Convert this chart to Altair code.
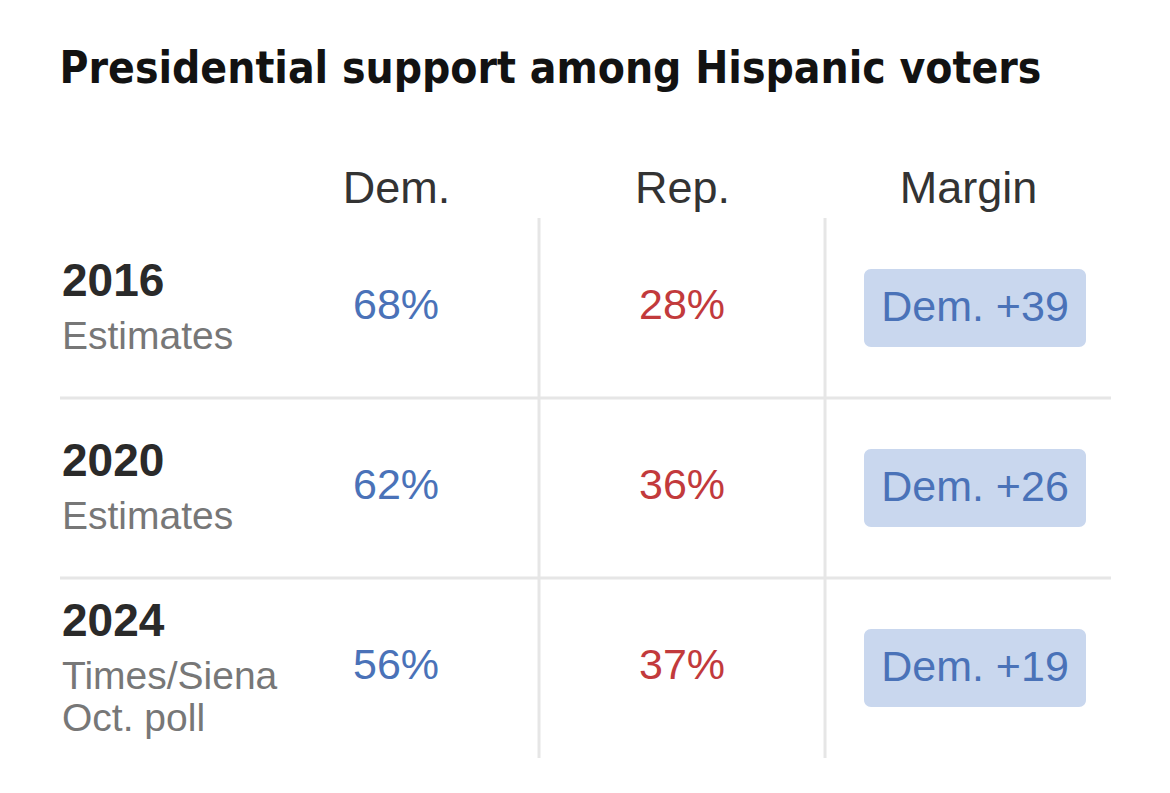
import altair as alt
import pandas as pd

# ---- data ----
columns = ["Dem.", "Rep.", "Margin"]
years = ["2016", "2020", "2024"]
sublabels = ["Estimates", "Estimates", "Times/Siena\nOct. poll"]
dem = [68, 62, 56]
rep = [28, 36, 37]
margin = [39, 26, 19]

title_text = "Presidential support among Hispanic voters"

BODY = "Liberation Sans, Arial, sans-serif"
TITLE_FONT = "DejaVu Sans Condensed, Liberation Sans Narrow, sans-serif"
BLUE = "#4a72b8"
RED = "#c23a3c"
BOX = "#c9d7ee"
RULE = "#e6e6e6"

PLOT_H = 540
n_rows = len(years)
ROW_PX = PLOT_H / n_rows

rows = pd.DataFrame({
    "row": list(range(n_rows)),
    "year": years,
    "sub": sublabels,
    "dem": dem,
    "rep": rep,
    "margin": margin,
})
rows["nsub"] = [s.count("\n") + 1 for s in sublabels]

vlines = pd.DataFrame({"x": [k + 0.5 for k in range(1, len(columns))]})
hlines = pd.DataFrame({"y": list(range(1, n_rows))})

xscale = alt.Scale(domain=[-0.175, len(columns) + 0.5], nice=False, zero=False)
yscale = alt.Scale(domain=[0, n_rows], reverse=True, nice=False, zero=False)

label_expr = "[" + ",".join(["''"] + ["'%s'" % c for c in columns]) + "][datum.value]"
xaxis = alt.Axis(
    orient="top", values=list(range(1, len(columns) + 1)), labelExpr=label_expr,
    grid=False, domain=False, ticks=False, title=None,
    labelFontSize=45, labelColor="#333333", labelFont=BODY, labelPadding=7,
    labelAngle=0,
)

base = alt.Chart(rows).transform_calculate(
    yc="datum.row + 0.5",
    yyear="datum.row + 0.5 - (26 + 20 * (datum.nsub - 1)) / %f" % ROW_PX,
    ysub="datum.row + 0.5 - (26 + 20 * (datum.nsub - 1) - 55) / %f" % ROW_PX,
)

v_rules = alt.Chart(vlines).mark_rule(color=RULE, strokeWidth=3).encode(
    x=alt.X("x:Q", scale=xscale, axis=xaxis)
)
h_rules = alt.Chart(hlines).mark_rule(color=RULE, strokeWidth=3).encode(
    y=alt.Y("y:Q", scale=yscale, axis=None)
)

boxes = base.mark_rect(
    width=222, height=78, cornerRadius=7, color=BOX, xOffset=7
).encode(
    x=alt.datum(3, scale=xscale, axis=xaxis),
    y=alt.Y("yc:Q", scale=yscale, axis=None),
)

year_txt = base.mark_text(
    align="left", baseline="middle", font=BODY, fontSize=46, fontWeight="bold",
    color="#2a2a2a",
).encode(
    x=alt.value(2),
    y=alt.Y("yyear:Q", scale=yscale, axis=None),
    text="year:N",
)
sub_txt = base.mark_text(
    align="left", baseline="middle", font=BODY, fontSize=39,
    color="#777777", lineBreak="\n", lineHeight=42,
).encode(
    x=alt.value(2),
    y=alt.Y("ysub:Q", scale=yscale, axis=None),
    text="sub:N",
)

dem_txt = base.transform_calculate(lab="datum.dem + '%'").mark_text(
    align="center", baseline="middle", font=BODY, fontSize=43, color=BLUE, dy=-2
).encode(
    x=alt.datum(1, scale=xscale, axis=xaxis),
    y=alt.Y("yc:Q", scale=yscale, axis=None),
    text="lab:N",
)
rep_txt = base.transform_calculate(lab="datum.rep + '%'").mark_text(
    align="center", baseline="middle", font=BODY, fontSize=43, color=RED, dy=-2
).encode(
    x=alt.datum(2, scale=xscale, axis=xaxis),
    y=alt.Y("yc:Q", scale=yscale, axis=None),
    text="lab:N",
)
mar_txt = base.transform_calculate(lab="'Dem. +' + datum.margin").mark_text(
    align="center", baseline="middle", font=BODY, fontSize=43, color=BLUE, dx=7
).encode(
    x=alt.datum(3, scale=xscale, axis=xaxis),
    y=alt.Y("yc:Q", scale=yscale, axis=None),
    text="lab:N",
)

chart = alt.layer(
    v_rules, h_rules, boxes, year_txt, sub_txt, dem_txt, rep_txt, mar_txt
).properties(
    width=1051,
    height=PLOT_H,
    autosize=alt.AutoSizeParams(type="none"),
    padding={"left": 52, "top": 210, "right": 51, "bottom": 27},
    background="white",
    title=alt.TitleParams(
        title_text, anchor="start", font=TITLE_FONT, fontSize=44,
        fontWeight="bold", color="#121212", offset=74, dx=1,
    ),
).configure_view(stroke=None)

chart.save("out.html", embed_options={"renderer": "svg", "actions": False})
